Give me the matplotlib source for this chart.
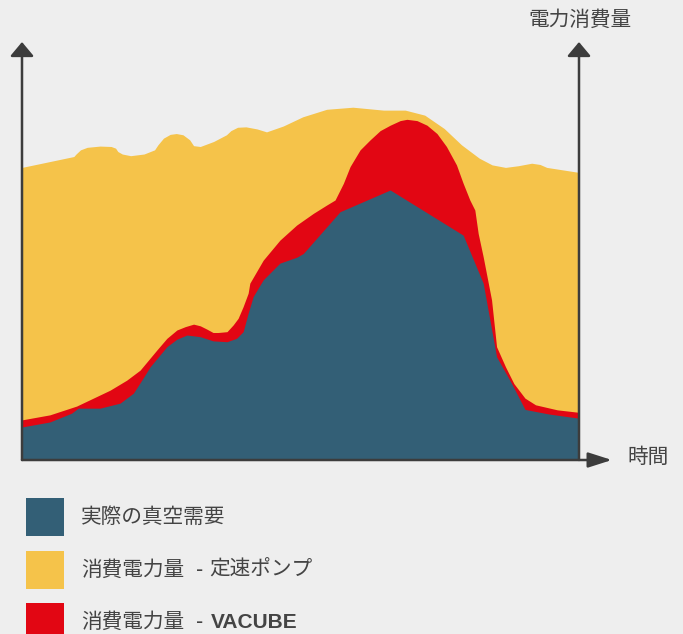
import matplotlib
matplotlib.use('Agg')
import matplotlib.pyplot as plt

plt.rcParams['font.family'] = ['Noto Sans CJK JP', 'DejaVu Sans']

# time (0-100) and power (0-100)
yellow_x = [0, 9.3, 9.7, 10.5, 11.7, 14.0, 16.0, 16.8, 17.2, 18.0, 19.5, 21.9, 23.8, 24.4,
            25.4, 26.6, 27.7, 28.9, 30.1, 30.8, 32.0, 34.4, 36.7, 37.5, 38.7, 40.2, 42.2,
            43.9, 46.9, 50.4, 54.7, 59.4, 64.9, 68.8, 72.3, 75.8, 78.9, 82.1, 84.4, 86.8,
            89.1, 91.5, 93.0, 94.2, 100]
yellow_y = [70.0, 72.6, 73.2, 74.2, 74.8, 75.1, 75.0, 74.6, 73.8, 73.2, 72.8, 73.2, 74.2, 75.4,
            77.0, 77.9, 78.1, 77.8, 76.6, 75.2, 75.0, 76.2, 77.8, 78.8, 79.6, 79.7, 79.2,
            78.5, 79.9, 82.1, 83.9, 84.4, 83.7, 83.7, 82.5, 79.3, 75.4, 72.2, 70.6, 70.0,
            70.4, 71.0, 70.7, 70.0, 68.8]

red_x = [0, 5.0, 9.8, 12.8, 15.8, 18.8, 21.2, 22.7, 24.2, 26.0, 27.8, 29.3, 30.8, 32.0,
         33.2, 34.3, 35.2, 36.8, 37.9, 38.8, 39.7, 40.6, 40.9, 43.3, 46.3, 49.3, 52.3,
         54.7, 56.2, 57.7, 58.9, 60.7, 62.5, 64.3, 66.1, 67.9, 69.1, 70.9, 72.7, 74.5,
         76.2, 78.0, 79.2, 80.4, 81.3, 81.9, 82.8, 83.6, 84.3, 85.2, 86.8, 88.3, 90.3,
         92.2, 96.1, 100]
red_y = [9.6, 10.8, 12.9, 14.8, 16.7, 19.1, 21.5, 23.9, 26.3, 29.1, 31.1, 31.9, 32.5, 32.1,
         31.3, 30.5, 30.5, 30.7, 32.3, 33.9, 36.7, 39.9, 42.3, 47.8, 52.6, 56.2, 59.0,
         61.0, 62.2, 66.2, 70.2, 74.2, 76.6, 78.8, 80.1, 81.2, 81.5, 81.2, 80.1, 78.1,
         75.0, 70.6, 66.2, 62.2, 59.8, 54.2, 48.6, 43.1, 38.3, 27.1, 22.3, 18.3, 14.8,
         13.2, 12.0, 11.4]

blue_x = [0, 5.0, 8.9, 10.1, 14.0, 17.6, 20.0, 21.5, 23.0, 26.0, 27.8, 29.6, 32.0, 34.3,
          36.8, 38.5, 39.7, 40.6, 41.5, 43.3, 46.3, 49.3, 50.5, 57.1, 66.1, 79.2, 82.8,
          85.2, 87.9, 90.3, 94.6, 100]
blue_y = [7.9, 9.1, 11.2, 12.4, 12.4, 13.6, 16.0, 19.1, 22.3, 27.1, 28.9, 29.9, 29.5, 28.5,
          28.3, 29.1, 30.7, 35.1, 39.1, 43.1, 47.1, 48.5, 49.4, 59.4, 64.6, 53.8, 42.3,
          24.7, 18.3, 12.1, 11.0, 10.0]

labels = ['実際の真空需要', '消費電力量', '消費電力量']
suffixes = [None, '定速ポンプ', 'VACUBE']
colors = ['#335f76', '#f5c34a', '#e20613']

bg = '#eeeeee'
fig = plt.figure(figsize=(6.83, 6.34), dpi=100, facecolor=bg)
ax = fig.add_axes([22 / 683, 174 / 634, 557 / 683, 418 / 634])
ax.set_xlim(0, 100)
ax.set_ylim(0, 100)
ax.axis('off')

ax.fill_between(yellow_x, 0, yellow_y, color=colors[1], lw=0)
ax.fill_between(red_x, 0, red_y, color=colors[2], lw=0)
ax.fill_between(blue_x, 0, blue_y, color=colors[0], lw=0)

axc = '#3c3c3c'
up = dict(arrowstyle='-|>,head_length=0.43,head_width=0.36', mutation_scale=20,
          color=axc, lw=1.8, shrinkA=0, shrinkB=0)
right = dict(arrowstyle='-|>,head_length=0.72,head_width=0.23', mutation_scale=20,
             color=axc, lw=1.8, shrinkA=0, shrinkB=0)
ax.annotate('', xy=(0, 100), xytext=(0, 0), arrowprops=up, annotation_clip=False, zorder=5)
ax.annotate('', xy=(100, 100), xytext=(100, 0), arrowprops=up, annotation_clip=False, zorder=5)
ax.annotate('', xy=(105.9, 0), xytext=(0, 0), arrowprops=right, annotation_clip=False, zorder=5)

tc = '#444444'
fig.text(580 / 683, 1 - 20 / 634, '電力消費量', ha='center', va='center', fontsize=14.9, color=tc)
fig.text(627 / 683, 1 - 457 / 634, '時間', ha='left', va='center', fontsize=14.9, color=tc)

# legend
sq_top = [498, 551, 603]
for i in range(3):
    fig.patches.append(plt.Rectangle((26 / 683, 1 - (sq_top[i] + 38) / 634), 38 / 683, 38 / 634,
                                     transform=fig.transFigure, color=colors[i], lw=0))
    yc = 1 - (sq_top[i] + 19) / 634
    fig.text(81 / 683, yc, labels[i], ha='left', va='center', fontsize=14.9, color=tc)
    if suffixes[i] is None:
        continue
    fig.text(196 / 683, yc, '-', ha='left', va='center', fontsize=14.9, color=tc)
    if i == 2:
        fig.text(211 / 683, yc, suffixes[i], ha='left', va='center', fontsize=15,
                 fontweight='bold', family=['Liberation Sans'], color=tc)
    else:
        fig.text(209 / 683, yc, suffixes[i], ha='left', va='center', fontsize=14.9, color=tc)

fig.savefig('out.png', dpi=100, facecolor=bg)
